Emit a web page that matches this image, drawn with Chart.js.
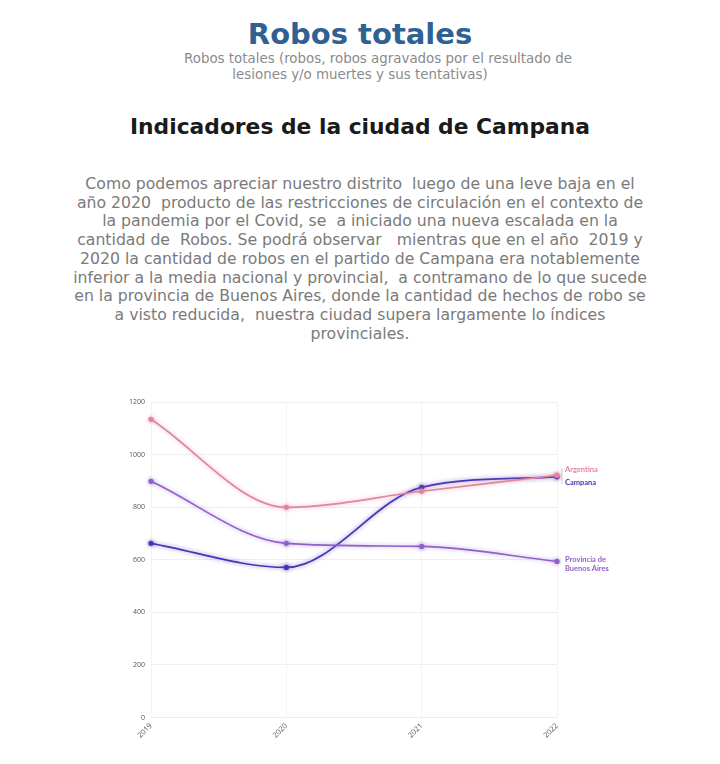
<!DOCTYPE html>
<html>
<head>
<meta charset="utf-8">
<script src="https://cdn.jsdelivr.net/npm/chart.js@4"></script>
<style>
  body { margin: 0; background: #fff; width: 720px; height: 764px; position: relative; overflow: hidden; font-family: "DejaVu Sans", sans-serif; }
  .titulo { position: absolute; top: 17px; left: 0; width: 720px; text-align: center; font-size: 29px; font-weight: bold; color: #2f6193; }
  .sub { position: absolute; top: 51px; left: 0; width: 720px; text-align: center; font-size: 13.4px; line-height: 16px; color: #8a8a8a; }
  .indic { position: absolute; top: 114px; left: 0; width: 720px; text-align: center; font-size: 21.8px; font-weight: bold; color: #1a1a1a; }
  .texto { position: absolute; top: 175px; left: 0; width: 720px; text-align: center; font-size: 15.7px; line-height: 18.7px; color: #7a7a7a; white-space: pre; }
  #wrap { position: absolute; left: 110px; top: 392px; width: 530px; height: 352px; }
</style>
</head>
<body>
<div class="titulo">Robos totales</div>
<div class="sub"><span style="padding-left:36px">Robos totales (robos, robos agravados por el resultado de</span><br>lesiones y/o muertes y sus tentativas)</div>
<div class="indic">Indicadores de la ciudad de Campana</div>
<div class="texto">Como podemos apreciar nuestro distrito  luego de una leve baja en el
año 2020  producto de las restricciones de circulación en el contexto de
la pandemia por el Covid, se  a iniciado una nueva escalada en la
cantidad de  Robos. Se podrá observar   mientras que en el año  2019 y
2020 la cantidad de robos en el partido de Campana era notablemente
inferior a la media nacional y provincial,  a contramano de lo que sucede
en la provincia de Buenos Aires, donde la cantidad de hechos de robo se
a visto reducida,  nuestra ciudad supera largamente lo índices
provinciales.</div>
<div id="wrap"><canvas id="grafico"></canvas></div>
<script>
// Datos
const anios = ["2019", "2020", "2021", "2022"];
const argentina = [1135, 800, 861, 922];
const campana = [663, 571, 876, 916];
const provincia = [899, 663, 651, 594];
const ticksY = [0, 200, 400, 600, 800, 1000, 1200];

const colores = {
    argentina: "#e3859d",
    campana: "#4b33b6",
    provincia: "#925fcc"
};

// Sombra suave alrededor de las líneas
const brillo = {
    id: "brillo",
    beforeDatasetDraw(chart, args) {
        const ctx = chart.ctx;
        ctx.save();
        ctx.shadowColor = args.meta.dataset.options.borderColor + "99";
        ctx.shadowBlur = 4;
    },
    afterDatasetDraw(chart) {
        chart.ctx.restore();
    }
};

// Etiquetas al final de cada línea
const etiquetas = {
    id: "etiquetas",
    afterDatasetsDraw(chart) {
        const ctx = chart.ctx;
        const x = chart.scales.x.getPixelForValue(anios.length - 1);
        const y = chart.scales.y;
        const yArg = y.getPixelForValue(argentina[3]);
        const yCam = y.getPixelForValue(campana[3]);
        const yProv = y.getPixelForValue(provincia[3]);
        ctx.save();
        ctx.font = "bold 7.5px Lato";
        ctx.textBaseline = "middle";
        ctx.fillStyle = colores.argentina;
        ctx.fillText("Argentina", x + 8, yArg - 6);
        ctx.fillStyle = colores.campana;
        ctx.fillText("Campana", x + 8, yCam + 6);
        ctx.fillStyle = colores.provincia;
        ctx.fillText("Provincia de", x + 8, yProv - 2);
        ctx.fillText("Buenos Aires", x + 8, yProv + 7);
        ctx.strokeStyle = "#bbbbbb";
        ctx.lineWidth = 0.8;
        ctx.beginPath();
        ctx.moveTo(x + 5, yArg - 7);
        ctx.lineTo(x + 5, yCam + 7);
        ctx.stroke();
        ctx.restore();
    }
};

function serie(nombre, datos, color) {
    return {
        label: nombre,
        data: datos,
        borderColor: color,
        backgroundColor: color,
        borderWidth: 1.7,
        pointRadius: 1.8,
        pointBackgroundColor: color,
        cubicInterpolationMode: "monotone",
        fill: false
    };
}

new Chart(document.getElementById("grafico"), {
    type: "line",
    data: {
        labels: anios,
        datasets: [
            serie("Argentina", argentina, colores.argentina),
            serie("Provincia de Buenos Aires", provincia, colores.provincia),
            serie("Campana", campana, colores.campana)
        ]
    },
    options: {
        responsive: true,
        maintainAspectRatio: false,
        animation: false,
        layout: { padding: { left: 13, right: 83, top: 6, bottom: 0 } },
        plugins: { legend: { display: false }, tooltip: { enabled: false } },
        scales: {
            x: {
                offset: false,
                grid: { color: "#f4f4f4", drawTicks: false },
                border: { color: "#eeeeee" },
                ticks: { color: "#555", font: { size: 7.5, family: "Open Sans" }, maxRotation: 45, minRotation: 45, padding: 4 }
            },
            y: {
                min: 0,
                max: 1200,
                afterBuildTicks(axis) { axis.ticks = ticksY.map(v => ({ value: v })); },
                grid: { color: "#efefef", drawTicks: false },
                border: { display: false },
                ticks: { color: "#555", font: { size: 7, family: "Open Sans" }, padding: 6, callback: v => String(v) }
            }
        }
    },
    plugins: [brillo, etiquetas]
});
</script>
</body>
</html>
